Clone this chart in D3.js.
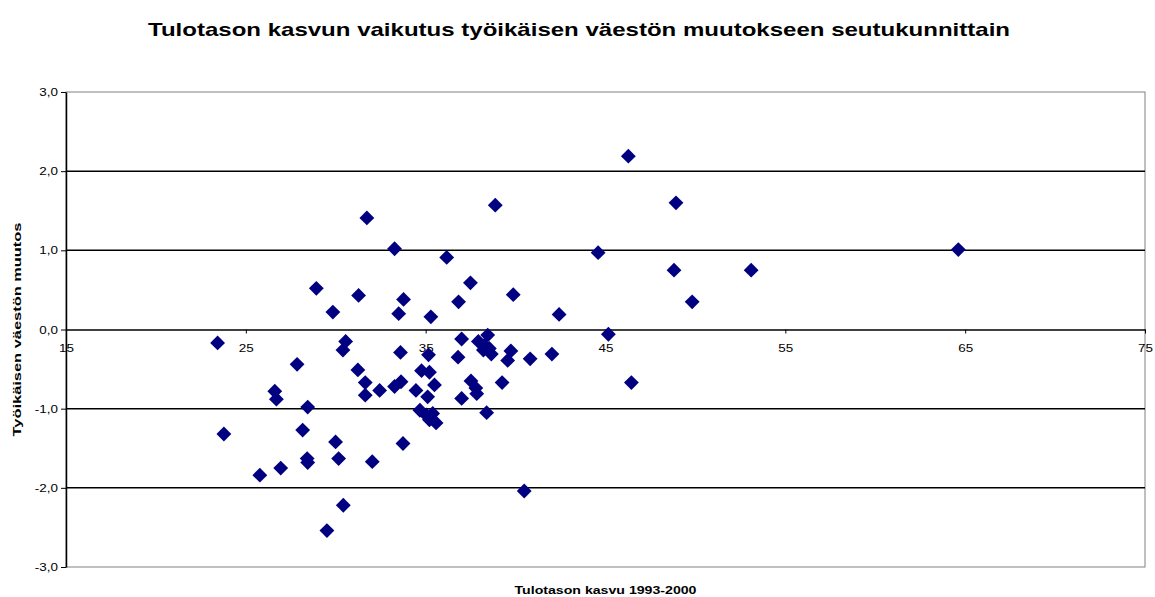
<!DOCTYPE html>
<html>
<head>
<meta charset="utf-8">
<script src="https://cdn.jsdelivr.net/npm/d3@7"></script>
<style>
  body { margin: 0; background: #fff; }
  text { font-family: "Liberation Sans", Arial, sans-serif; }
</style>
</head>
<body>
<svg id="chart" width="1155" height="597"></svg>
<script>
// tulotason kasvu 1993-2000 (x) ja työikäisen väestön muutos (y), seutukunnittain
const incomeGrowth = [
  46.27, 48.92, 38.87, 31.73, 33.27, 44.59, 64.62, 36.17, 48.81, 53.10,
  37.49, 28.92, 31.27, 39.87, 33.77, 36.83, 49.82, 29.84, 33.50, 35.29,
  42.42, 23.43, 45.16, 30.55, 30.40, 37.00, 38.45, 37.93, 38.26, 38.54,
  38.21, 38.65, 39.74, 39.56, 40.81, 42.02, 33.60, 35.16, 36.80, 27.85,
  31.23, 31.64, 31.64, 32.44, 33.27, 33.63, 34.46, 34.77, 35.21, 35.49,
  35.11, 37.52, 37.79, 37.84, 37.00, 39.25, 26.61, 26.70, 28.44, 34.68,
  35.03, 35.39, 35.21, 35.58, 38.39, 33.74, 23.78, 28.16, 29.99, 30.16,
  28.41, 28.44, 32.03, 26.94, 25.78, 30.42, 29.51, 40.48, 46.44
];
const workforceChange = [
  2.19, 1.60, 1.57, 1.41, 1.02, 0.97, 1.01, 0.91, 0.75, 0.75,
  0.59, 0.52, 0.43, 0.44, 0.38, 0.35, 0.35, 0.22, 0.20, 0.16,
  0.19, -0.17, -0.06, -0.15, -0.26, -0.12, -0.07, -0.15, -0.20, -0.24,
  -0.26, -0.31, -0.27, -0.39, -0.37, -0.31, -0.29, -0.32, -0.35, -0.44,
  -0.51, -0.67, -0.83, -0.77, -0.72, -0.66, -0.77, -0.52, -0.54, -0.70,
  -0.85, -0.65, -0.74, -0.81, -0.87, -0.67, -0.78, -0.88, -0.98, -1.02,
  -1.08, -1.06, -1.14, -1.18, -1.05, -1.44, -1.32, -1.27, -1.42, -1.63,
  -1.63, -1.68, -1.67, -1.75, -1.84, -2.22, -2.54, -2.04, -0.67
];
const xTicks = [15, 25, 35, 45, 55, 65, 75];
const yTicks = [-3, -2, -1, 0, 1, 2, 3];

const points = incomeGrowth.map((x, i) => ({ x, y: workforceChange[i] }));

const svg = d3.select('#chart');
const plot = { left: 66, right: 1145, top: 92, bottom: 567 };

const x = d3.scaleLinear().domain([15, 75]).range([plot.left, plot.right]);
const y = d3.scaleLinear().domain([-3, 3]).range([plot.bottom, plot.top]);

// the original text is drawn a bit wider than Arial, widen glyphs to match
const widen = (sel, k) => sel.each(function () {
    const len = this.getComputedTextLength();
    d3.select(this)
        .attr('textLength', len * k)
        .attr('lengthAdjust', 'spacingAndGlyphs');
});

// plot area frame
svg.append('rect')
    .attr('x', plot.left)
    .attr('y', plot.top)
    .attr('width', plot.right - plot.left)
    .attr('height', plot.bottom - plot.top)
    .attr('fill', 'none')
    .attr('stroke', '#808080')
    .attr('stroke-width', 1);

// horizontal gridlines
svg.append('g')
    .selectAll('line')
    .data(yTicks.filter(d => d !== 0 && Math.abs(d) !== 3))
    .enter()
    .append('line')
    .attr('x1', plot.left)
    .attr('x2', plot.right)
    .attr('y1', d => y(d))
    .attr('y2', d => y(d))
    .attr('stroke', '#000')
    .attr('stroke-width', 1.5);

const comma = d => d3.format('.1f')(d).replace('.', ',').replace('−', '-');

// y axis
const yAxis = svg.append('g')
    .attr('transform', `translate(${plot.left},0)`)
    .call(d3.axisLeft(y).tickValues(yTicks).tickFormat(comma).tickSize(5).tickSizeOuter(0));
yAxis.select('.domain').attr('stroke', '#000').attr('stroke-width', 1.5);
yAxis.selectAll('.tick line').attr('stroke', '#000');
yAxis.selectAll('.tick text')
    .attr('x', -8)
    .attr('font-size', 11)
    .attr('font-family', '"Liberation Sans", Arial, sans-serif')
    .attr('fill', '#000')
    .call(widen, 1.22);

// x axis crosses at y = 0
const xAxis = svg.append('g')
    .attr('transform', `translate(0,${y(0)})`)
    .call(d3.axisBottom(x).tickValues(xTicks).tickSize(4).tickSizeOuter(0));
xAxis.select('.domain').attr('stroke', '#000').attr('stroke-width', 1.5);
xAxis.selectAll('.tick line').attr('stroke', '#000');
xAxis.selectAll('.tick text')
    .attr('y', 15)
    .attr('font-size', 11)
    .attr('font-family', '"Liberation Sans", Arial, sans-serif')
    .attr('fill', '#000')
    .call(widen, 1.22);

// markers
const diamond = d3.symbol().type(d3.symbolSquare).size(110);
svg.append('g')
    .selectAll('.drop')
    .data(points)
    .enter()
    .append('path')
    .classed('drop', true)
    .attr('d', diamond)
    .attr('transform', d => `translate(${x(d.x)},${y(d.y)}) rotate(45)`)
    .attr('fill', '#000080');

// titles
svg.append('text')
    .attr('x', 579)
    .attr('y', 36)
    .attr('text-anchor', 'middle')
    .attr('font-size', 19)
    .attr('font-weight', 'bold')
    .attr('textLength', 862)
    .attr('lengthAdjust', 'spacingAndGlyphs')
    .text('Tulotason kasvun vaikutus työikäisen väestön muutokseen seutukunnittain');

svg.append('text')
    .attr('x', (plot.left + plot.right) / 2)
    .attr('y', 594)
    .attr('text-anchor', 'middle')
    .attr('font-size', 11)
    .attr('font-weight', 'bold')
    .attr('textLength', 182)
    .attr('lengthAdjust', 'spacingAndGlyphs')
    .text('Tulotason kasvu 1993-2000');

svg.append('text')
    .attr('transform', `translate(21,${y(0)}) rotate(-90)`)
    .attr('text-anchor', 'middle')
    .attr('font-size', 11)
    .attr('font-weight', 'bold')
    .attr('textLength', 214)
    .attr('lengthAdjust', 'spacingAndGlyphs')
    .text('Työikäisen väestön muutos');
</script>
</body>
</html>
